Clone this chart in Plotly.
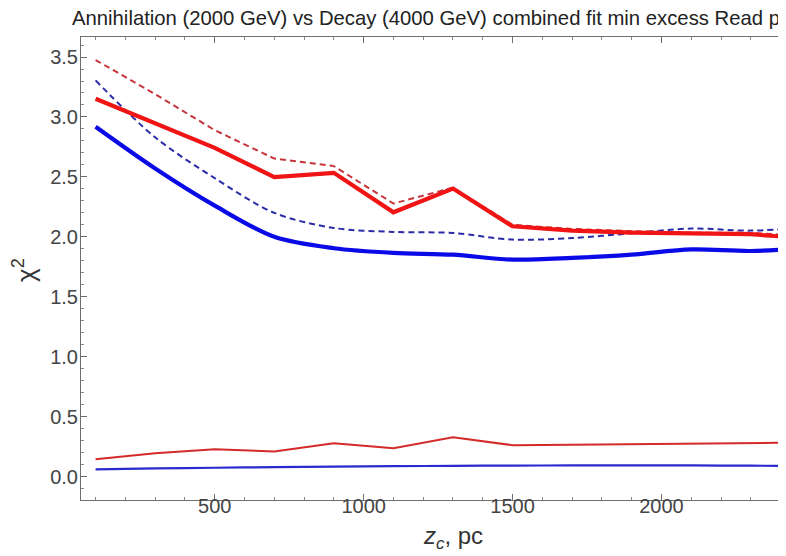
import plotly.graph_objects as go

z_pc = [100, 300, 500, 700, 900, 1100, 1300, 1500, 1700, 1900, 2100, 2300, 2500]

red_thick = [3.152, 2.95, 2.742, 2.498, 2.534, 2.205, 2.403, 2.088, 2.052, 2.035, 2.026, 2.022, 1.985]
red_dashed = [3.475, 3.19, 2.89, 2.653, 2.59, 2.278, 2.41, 2.10, 2.066, 2.047, 2.035, 2.033, 2.005]
blue_thick = [2.918, 2.57, 2.26, 2.0, 1.905, 1.866, 1.851, 1.81, 1.824, 1.851, 1.895, 1.882, 1.91]
blue_dashed = [3.305, 2.83, 2.49, 2.20, 2.074, 2.041, 2.032, 1.977, 1.99, 2.03, 2.069, 2.052, 2.08]
red_thin = [0.144, 0.195, 0.228, 0.209, 0.278, 0.236, 0.329, 0.262, 0.266, 0.271, 0.276, 0.281, 0.285]
blue_thin = [0.061, 0.068, 0.074, 0.079, 0.083, 0.087, 0.09, 0.092, 0.093, 0.093, 0.093, 0.091, 0.089]

title_text = "Annihilation (2000 GeV) vs Decay (4000 GeV) combined fit min excess Read p"

FONT = "Liberation Sans, Arial, sans-serif"

fig = go.Figure()

def add(y, color, width, dash="solid", shape="linear"):
    fig.add_trace(go.Scatter(
        x=z_pc, y=y, mode="lines",
        line=dict(color=color, width=width, dash=dash, shape=shape, smoothing=0.9),
        hoverinfo="skip", showlegend=False))

add(blue_thin, "#2a2ad0", 2.2, shape="spline")
add(red_thin, "#d42a2a", 2.0)
add(blue_dashed, "#2b2ba8", 2.0, dash="6px,4px", shape="spline")
add(red_dashed, "#c8343c", 2.0, dash="6px,4px")
add(blue_thick, "#0a0ae6", 4.2, shape="spline")
add(red_thick, "#f01414", 4.2)

axis_common = dict(
    showgrid=False, zeroline=False,
    showline=True, linecolor="#6e6e6e", linewidth=1,
    ticks="inside", ticklen=6, tickwidth=1, tickcolor="#6e6e6e",
    tickfont=dict(family=FONT, size=20, color="#444444"),
)

fig.update_xaxes(
    range=[51, 2445], tickvals=[500, 1000, 1500, 2000],
    mirror="ticks", ticklabelstandoff=-12,
    minor=dict(dtick=100, tick0=0, ticks="inside", ticklen=3, tickcolor="#8a8a8a"),
    **axis_common)
fig.update_yaxes(
    range=[-0.195, 3.667], tickvals=[0, 0.5, 1, 1.5, 2, 2.5, 3, 3.5],
    tickformat=".1f", ticklabelstandoff=-2,
    minor=dict(dtick=0.1, tick0=0, ticks="inside", ticklen=3, tickcolor="#8a8a8a"),
    **axis_common)

fig.update_layout(
    width=786, height=556,
    margin=dict(l=73, r=0, t=29, b=64),
    paper_bgcolor="white", plot_bgcolor="white",
    title=dict(text=title_text, x=64 / 786, xanchor="left", xref="container",
               y=1 - 10 / 556, yanchor="middle", yref="container",
               font=dict(family=FONT, size=20.3, color="#222222")),
)

fig.add_annotation(text="χ<sup>2</sup>", xref="paper", yref="paper",
                   x=(16 - 73) / 713, xanchor="center", y=(491.7 - 262) / 462.4,
                   yanchor="middle", showarrow=False, textangle=-90,
                   font=dict(family=FONT, size=26, color="#333333"))
fig.add_annotation(text="<i>z</i><sub><i>c</i></sub>, pc", xref="paper", yref="paper",
                   x=(445 - 73) / 713, xanchor="center", y=-(529 - 491.7) / 462.4,
                   yanchor="middle", showarrow=False,
                   font=dict(family=FONT, size=24, color="#333333"))

fig.write_html("out.html")
